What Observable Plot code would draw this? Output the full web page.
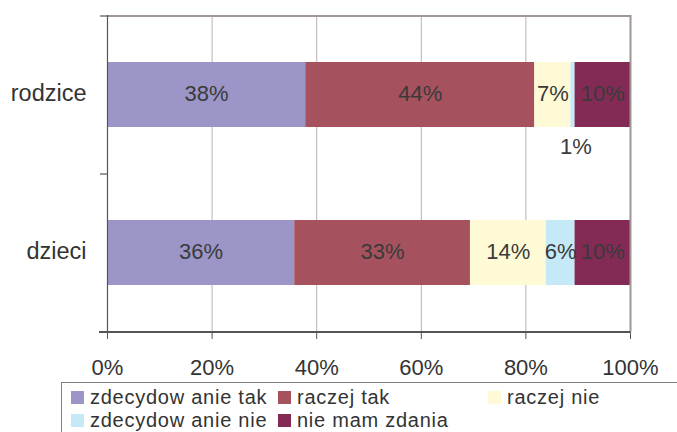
<!DOCTYPE html>
<html>
<head>
<meta charset="utf-8">
<script src="https://cdn.jsdelivr.net/npm/d3@7"></script>
<script src="https://cdn.jsdelivr.net/npm/@observablehq/plot@0.6"></script>
<style>
  html, body { margin: 0; padding: 0; background: #fff; overflow: hidden; }
  body { width: 677px; height: 432px; position: relative; font-family: "Liberation Sans", Arial, sans-serif; }
  #chart { position: absolute; left: 0; top: 0; }
  #legend {
    position: absolute; left: 61px; top: 382px; width: 700px; height: 70px;
    border: 1px solid #808080; box-sizing: border-box;
    display: grid; grid-template-columns: 207px 210px 200px; grid-auto-rows: 22.5px;
    padding: 3.3px 0 0 9px; color: #333; font-size: 20px; line-height: 22.5px;
  }
  .item { display: flex; align-items: center; white-space: nowrap; height: 22.5px; }
  .sw { width: 13px; height: 13px; margin-right: 6px; flex: none; }
  .lt { display: inline-block; height: 22.5px; line-height: 22.5px; letter-spacing: 0.75px; }
</style>
</head>
<body>
<div id="chart"></div>
<div id="legend"></div>
<script>
const categories = ["rodzice", "dzieci"];
const series = ["zdecydow anie tak", "raczej tak", "raczej nie", "zdecydow anie nie", "nie mam zdania"];
const colors = ["#9c96c8", "#a6525e", "#fffad6", "#c6e9f8", "#832b55"];
const rodziceValues = [37.9, 43.8, 6.9, 0.8, 10.6];
const dzieciValues = [35.8, 33.6, 14.5, 5.5, 10.6];
const rodziceLabels = ["38%", "44%", "7%", "1%", "10%"];
const dzieciLabels = ["36%", "33%", "14%", "6%", "10%"];
const xTicks = [0, 20, 40, 60, 80, 100];

const valuesByCat = {rodzice: rodziceValues, dzieci: dzieciValues};
const labelsByCat = {rodzice: rodziceLabels, dzieci: dzieciLabels};
const rows = [];
for (const cat of categories) {
  series.forEach((s, i) => rows.push({cat, series: s, value: valuesByCat[cat][i], label: labelsByCat[cat][i]}));
}
const small = d => d.value < 2;

const chart = Plot.plot({
  width: 677,
  height: 380,
  marginTop: 15,
  marginBottom: 48,
  marginLeft: 107,
  marginRight: 47,
  style: {fontFamily: "'Liberation Sans', Arial, sans-serif", background: "#fff", color: "#333"},
  x: {domain: [0, 100]},
  y: {domain: categories, paddingInner: 0.59, paddingOuter: 0.295},
  color: {domain: series, range: colors},
  marks: [
    Plot.gridX({ticks: xTicks.slice(1, -1), stroke: "#bab2b2", strokeOpacity: 1, strokeWidth: 1}),
    Plot.barX(rows, Plot.stackX({x: "value", y: "cat", fill: "series"})),
    Plot.text(rows, Plot.stackX({x: "value", y: "cat", z: "series", text: d => small(d) ? "" : d.label, fill: "#3a3a3a", fontSize: 22, dy: -1})),
    Plot.text(rows, Plot.stackX({x: "value", y: "cat", z: "series", text: d => small(d) ? d.label : "", fill: "#3a3a3a", fontSize: 22, dy: 52, dx: 3})),
    // frame: top and right in grey, left and bottom dark
    Plot.ruleY(["rodzice"], {y: d => d, dy: -79, insetLeft: -7, stroke: "#a09696", strokeWidth: 2}),
    Plot.ruleX([xTicks[xTicks.length - 1]], {stroke: "#a09696", strokeWidth: 2}),
    Plot.ruleX([xTicks[0]], {stroke: "#555", strokeWidth: 1.2}),
    Plot.ruleY(["dzieci"], {y: d => d, dy: -79, x1: 0, x2: 0, insetLeft: -7, stroke: "#555", strokeWidth: 1.2}),
    Plot.ruleY(["dzieci"], {y: d => d, dy: 79, insetLeft: -8, stroke: "#555", strokeWidth: 2}),
    Plot.axisX({ticks: xTicks, tickFormat: d => d + "%", tickSize: 7, tickPadding: 20, fontSize: 22, stroke: "#555", fill: "#333", label: null}),
    Plot.axisY({tickSize: 0, tickPadding: 21, fontSize: 23.5, dy: -2, fill: "#333", label: null})
  ]
});
document.getElementById("chart").appendChild(chart);

const legend = document.getElementById("legend");
series.forEach((s, i) => {
  const item = document.createElement("div");
  item.className = "item";
  const sw = document.createElement("span");
  sw.className = "sw";
  sw.style.background = colors[i];
  const t = document.createElement("span");
  t.className = "lt";
  t.textContent = s;
  item.appendChild(sw);
  item.appendChild(t);
  legend.appendChild(item);
});
</script>
</body>
</html>
